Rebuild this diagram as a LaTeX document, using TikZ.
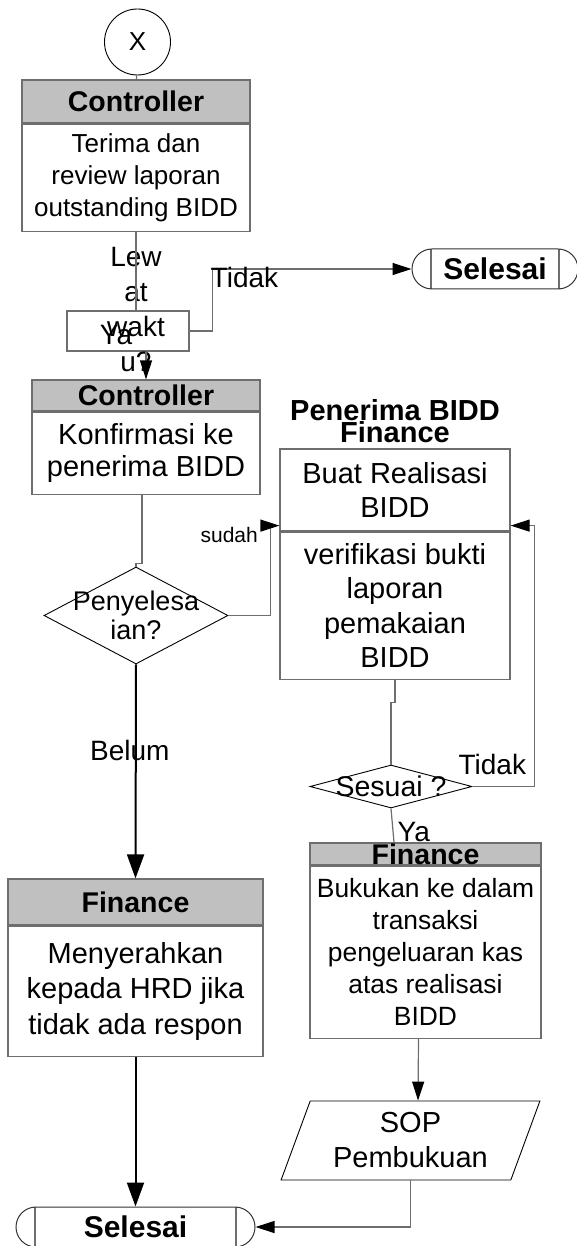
\documentclass[tikz,border=0pt]{standalone}
\usepackage{fontspec}
\setmainfont{Liberation Sans}
\usetikzlibrary{shapes.geometric, arrows.meta, positioning}
\definecolor{hdrgray}{RGB}{192,192,192}
\definecolor{linegray}{RGB}{110,110,110}
\newcommand{\ftxt}{\fontsize{29}{34.5}\selectfont}
\newcommand{\fsmall}{\fontsize{26}{32}\selectfont}
\newcommand{\fhead}{\bfseries\fontsize{28.5}{30}\selectfont}
\newcommand{\fsudah}{\fontsize{21}{24}\selectfont}
\tikzstyle{connector} = [circle, draw=black, line width=0.9pt, minimum size=66pt, inner sep=0pt, font=\fontsize{26}{26}\selectfont]
\tikzstyle{header} = [rectangle, draw=linegray, line width=1.2pt, fill=hdrgray, inner sep=0pt, font=\fhead]
\tikzstyle{process} = [rectangle, draw=linegray, line width=1.2pt, fill=white, inner sep=0pt, align=center, font=\ftxt]
\tikzstyle{decision} = [diamond, draw=black, line width=0.9pt, inner sep=0pt]
\tikzstyle{io} = [trapezium, trapezium left angle=68, trapezium right angle=112, trapezium stretches=true, draw=black, line width=0.9pt, inner sep=0pt, align=center, font=\fontsize{29}{35}\selectfont]
\tikzstyle{startstop} = [rectangle, rounded corners=20pt, draw=black!80, line width=1pt, minimum height=40pt, inner sep=0pt, font=\bfseries\fontsize{30}{30}\selectfont,
  path picture={\draw[linegray, line width=1.2pt] ([xshift=19pt]path picture bounding box.north west) -- ([xshift=19pt]path picture bounding box.south west);
                \draw[linegray, line width=1.2pt] ([xshift=-19pt]path picture bounding box.north east) -- ([xshift=-19pt]path picture bounding box.south east);}]
\tikzstyle{lbl} = [inner sep=0pt, font=\fontsize{28}{35}\selectfont]
\tikzstyle{line} = [draw=linegray, line width=1.2pt]
\tikzstyle{arrow} = [line, -{Triangle[length=19pt, width=12pt, color=black]}]
\tikzstyle{boldarrow} = [draw=black, line width=2pt, -{Triangle[length=24pt, width=17pt]}]

\begin{document}
\begin{tikzpicture}[x=1pt, y=-1pt]
\useasboundingbox (0,0) rectangle (576,1246);
% left column
\node (x) [connector] at (137.5,42) {X};
\node (ctrl1h) [header, minimum width=228pt, minimum height=43pt] at (136,101.5) {Controller};
\node (ctrl1) [process, below=0pt of ctrl1h, minimum width=228pt, minimum height=107pt, font=\fsmall] {Terima dan\\review laporan\\outstanding BIDD};
\node (lewat) [rectangle, draw=linegray, line width=1.2pt, minimum width=122pt, minimum height=40pt] at (128,331) {};
\node (lewattxt) [lbl, align=center] at (136,310) {Lew\\at\\wakt\\u?};
\node (ya1) [lbl] at (116,335) {Ya};
\node (sel1) [startstop, minimum width=166pt] at (495,269) {Selesai};
\node (ctrl2h) [header, minimum width=228pt, minimum height=31pt] at (146,395.5) {Controller};
\node (ctrl2) [process, below=0pt of ctrl2h, minimum width=228pt, minimum height=82pt, font=\fontsize{29}{32}\selectfont] {Konfirmasi ke\\penerima BIDD};
\node (dec1) [decision, minimum width=184pt, minimum height=97pt, label={[lbl, align=center, font=\fontsize{27}{29}\selectfont]center:Penyelesa\\ian?}] at (136,615.5) {};
\node (fin1h) [header, minimum width=255pt, minimum height=46pt] at (135.5,902) {Finance};
\node (fin1) [process, below=0pt of fin1h, minimum width=255pt, minimum height=130pt, font=\fontsize{29}{35.5}\selectfont] {Menyerahkan\\kepada HRD jika\\tidak ada respon};
\node (sel2) [startstop, minimum width=239pt] at (135.5,1227) {Selesai};
% right column
\node (buat) [process, minimum width=230pt, minimum height=82pt] at (395,490) {Buat Realisasi\\BIDD};
\node (verif) [process, below=0pt of buat, minimum width=230pt, minimum height=147pt] {verifikasi bukti\\laporan\\pemakaian\\BIDD};
\node (penhdr) [above=5pt of buat, inner sep=0pt, align=center, font=\bfseries\fontsize{29}{22}\selectfont] {Penerima BIDD\\Finance};
\node (dec2) [decision, minimum width=162pt, minimum height=43pt, label={[lbl, font=\fontsize{28.5}{30}\selectfont]center:Sesuai ?}] at (391,786.5) {};
\node (fin2h) [header, minimum width=231pt, minimum height=22pt] at (425.5,854) {Finance};
\node (fin2) [process, below=0pt of fin2h, minimum width=231pt, minimum height=172pt, font=\fontsize{26.4}{32}\selectfont] {Bukukan ke dalam\\transaksi\\pengeluaran kas\\atas realisasi\\BIDD};
\node (sop) [io, minimum width=259pt, minimum height=79pt] at (410.5,1140.5) {SOP\\Pembukuan};
% connectors
\draw [line] (x) -- (ctrl1h);
\draw [line] (ctrl1) -- (ctrl1.south |- lewat.north);
\draw [arrow] (lewat.east) -- ++(23,0) |- node[lbl, pos=0.58, anchor=north, yshift=2pt]{Tidak} (sel1.west);
\draw [arrow] (lewat.south -| ctrl2h.north) -- (ctrl2h.north);
\draw [line] ([xshift=-4pt]ctrl2.south) |- ([yshift=3pt]dec1.north) -- (dec1.north);
\draw [arrow] (dec1.east) -- ++(42,0) |- node[pos=0.45, anchor=east, inner sep=0pt, xshift=-12pt, font=\fsudah]{sudah} ([yshift=6pt]buat.south west);
\draw [boldarrow] (dec1.south) -- node[lbl, pos=0.4, xshift=-6pt]{Belum} (fin1h.north);
\draw [boldarrow] (fin1) -- (sel2);
\draw [line] (verif.south) -- ++(0,23) -| (dec2.north);
\draw [arrow] (dec2.east) -- node[lbl, pos=0.32, anchor=south, yshift=11.5pt]{Tidak} ++(62,0) |- ([yshift=6pt]buat.south east);
\draw [line] (dec2.south) -- node[lbl, pos=0.7, anchor=west, xshift=4pt]{Ya} ([xshift=-31.5pt]fin2h.north);
\draw [arrow] ([xshift=-7pt]fin2.south) -- ([xshift=7.5pt]sop.north);
\draw [arrow] (sop.south) |- (sel2.east);
\end{tikzpicture}
\end{document}
